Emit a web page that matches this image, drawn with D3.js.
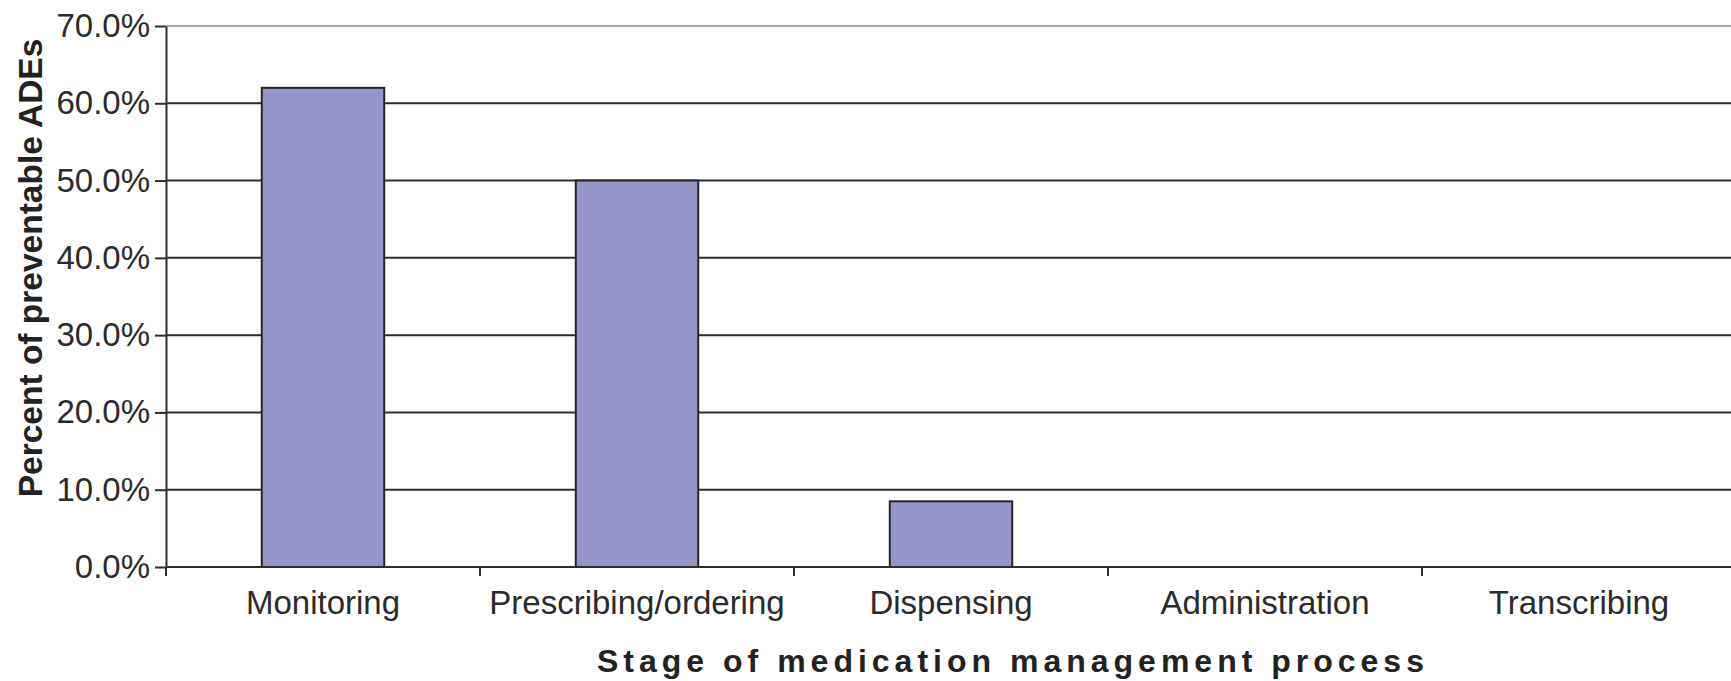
<!DOCTYPE html>
<html>
<head>
<meta charset="utf-8">
<script src="https://cdn.jsdelivr.net/npm/d3@7"></script>
<style>
  html, body { margin: 0; padding: 0; background: #fff; }
  svg { display: block; }
  text { font-family: "Liberation Sans", Arial, Helvetica, sans-serif; }
</style>
</head>
<body>
<svg id="chart" width="1731" height="681"></svg>
<script>
// Stages of the medication management process and the share of preventable ADEs at each
const stages = ["Monitoring", "Prescribing/ordering", "Dispensing", "Administration", "Transcribing"];
const shares = [0.620, 0.500, 0.085, 0.000, 0.000];
const yTicks = [0, 0.1, 0.2, 0.3, 0.4, 0.5, 0.6, 0.7];
const yTitle = "Percent of preventable ADEs";
const xTitle = "Stage of medication management process";

const W = 1731, H = 681;
const plot = { left: 166, top: 26, right: 1736, bottom: 567 };

const svg = d3.select("#chart");

const y = d3.scaleLinear().domain([0, 0.7]).range([plot.bottom, plot.top]);

// category slots, ticks sit on the slot boundaries
const slot = d3.scaleBand().domain(stages).range([plot.left, plot.right]).padding(0);
// bars are narrower than their slot and centred in it
const x = d3.scaleBand().domain(stages).range([plot.left, plot.right])
  .paddingInner(0.61).paddingOuter(0.305);

// horizontal gridlines
svg.append("g").selectAll("line")
  .data(yTicks.filter(d => d > 0))
  .join("line")
  .attr("x1", plot.left).attr("x2", W)
  .attr("y1", d => y(d)).attr("y2", d => y(d))
  .attr("stroke", d => d === 0.7 ? "#a8a8a8" : "#2e2e2e")
  .attr("stroke-width", 2);

// bars
svg.append("g").selectAll("rect")
  .data(stages.map((s, i) => ({ stage: s, v: shares[i] })).filter(d => d.v > 0))
  .join("rect")
  .attr("x", d => x(d.stage))
  .attr("width", x.bandwidth())
  .attr("y", d => y(d.v))
  .attr("height", d => y(0) - y(d.v))
  .attr("fill", "#9595c8")
  .attr("stroke", "#262626")
  .attr("stroke-width", 2);

// y axis
const yAxis = svg.append("g")
  .attr("transform", `translate(${plot.left},0)`)
  .call(d3.axisLeft(y).tickValues(yTicks).tickFormat(d3.format(".1%"))
    .tickSize(11).tickSizeOuter(0).tickPadding(5));
yAxis.select(".domain").attr("stroke", "#2e2e2e").attr("stroke-width", 2);
yAxis.selectAll(".tick line").attr("stroke", "#2e2e2e").attr("stroke-width", 2);
yAxis.selectAll(".tick text")
  .attr("fill", "#2b2b2b")
  .style("font-size", "33px")
  .style("font-family", "'Liberation Sans', Arial, sans-serif");

// x axis baseline and boundary ticks
svg.append("line")
  .attr("x1", plot.left).attr("x2", W)
  .attr("y1", y(0)).attr("y2", y(0))
  .attr("stroke", "#2e2e2e").attr("stroke-width", 2);

const bounds = stages.map(s => slot(s));
svg.append("g").selectAll("line")
  .data(bounds)
  .join("line")
  .attr("x1", d => d).attr("x2", d => d)
  .attr("y1", y(0)).attr("y2", y(0) + 9)
  .attr("stroke", "#2e2e2e").attr("stroke-width", 2);

// category labels
const xAxis = svg.append("g")
  .attr("transform", `translate(0,${y(0)})`)
  .call(d3.axisBottom(slot).tickSize(0).tickPadding(24));
xAxis.select(".domain").remove();
xAxis.selectAll(".tick text")
  .attr("fill", "#2b2b2b")
  .style("font-size", "33px")
  .style("font-family", "'Liberation Sans', Arial, sans-serif");

// axis titles
svg.append("text")
  .attr("transform", `translate(42,268) rotate(-90)`)
  .attr("text-anchor", "middle")
  .attr("fill", "#222")
  .style("font-size", "33.5px")
  .style("font-weight", "bold")
  .text(yTitle);

svg.append("text")
  .attr("x", 597).attr("y", 672)
  .attr("text-anchor", "start")
  .attr("fill", "#222")
  .style("font-size", "32px")
  .style("font-weight", "bold")
  .style("letter-spacing", "5px")
  .text(xTitle);
</script>
</body>
</html>
